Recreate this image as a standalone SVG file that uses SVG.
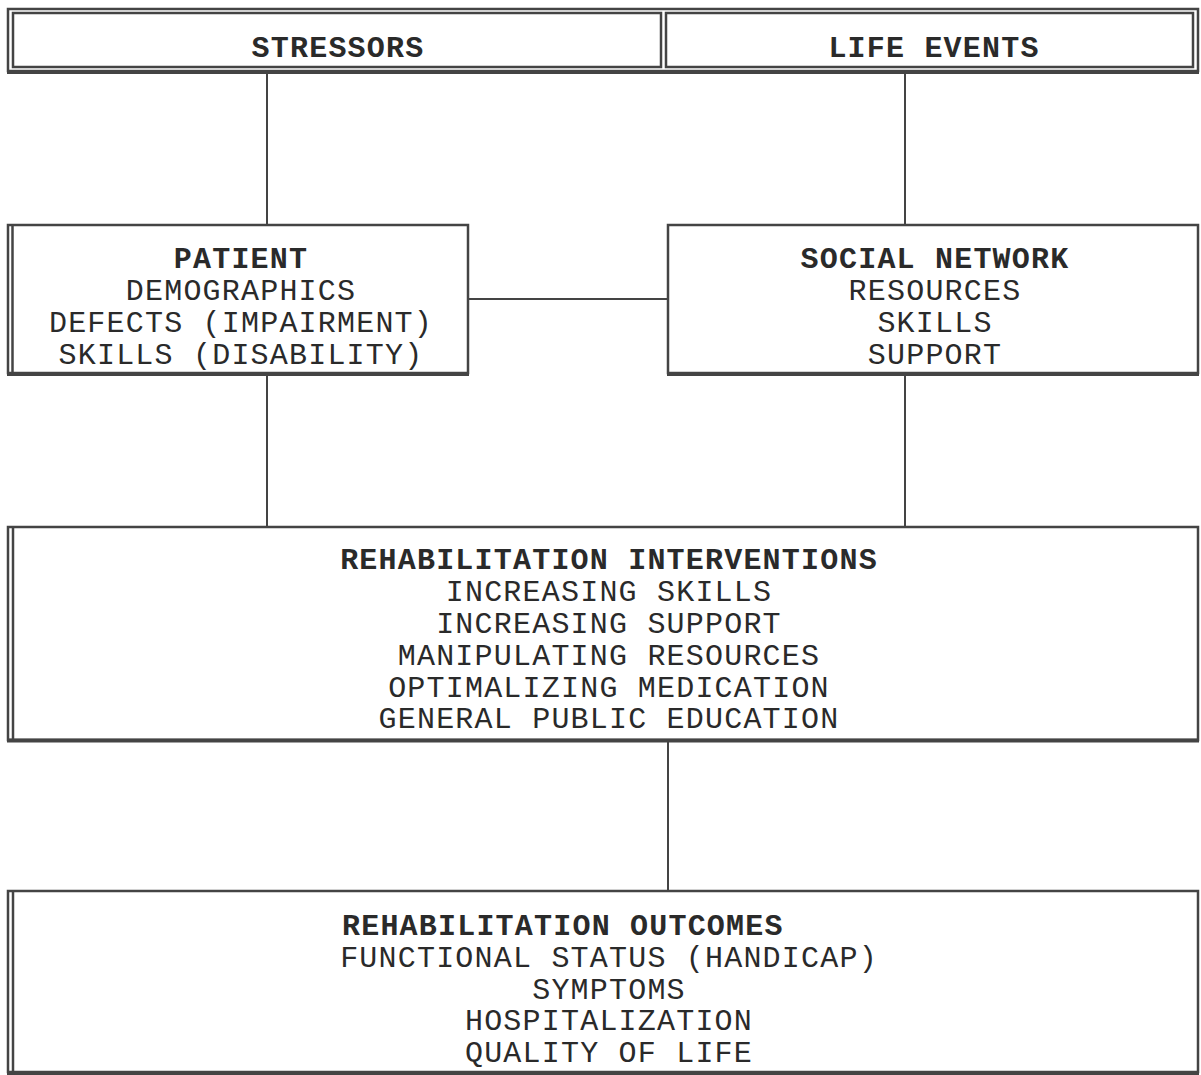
<svg xmlns="http://www.w3.org/2000/svg" width="1201" height="1075" viewBox="0 0 1201 1075">
<style>
  .bg { fill: #ffffff; }
  .edge { fill: none; stroke: #444; stroke-width: 2.5; }
  .thick { fill: none; stroke: #444; stroke-width: 4; }
  .conn { fill: none; stroke: #444; stroke-width: 2; }
  text { font-family: "Liberation Mono", "DejaVu Sans Mono", monospace; font-size: 30px; letter-spacing: 1.2px; fill: #2a2a2a; }
  .h { font-weight: bold; }
  .c { text-anchor: middle; }
</style>
<rect class="bg" x="0" y="0" width="1201" height="1075"/>

<g id="connectors">
  <line class="conn" x1="267" y1="72" x2="267" y2="225"/>
  <line class="conn" x1="905" y1="72" x2="905" y2="225"/>
  <line class="conn" x1="468" y1="299" x2="668" y2="299"/>
  <line class="conn" x1="267" y1="374" x2="267" y2="527"/>
  <line class="conn" x1="905" y1="374" x2="905" y2="527"/>
  <line class="conn" x1="668" y1="740" x2="668" y2="891"/>
</g>

<g id="banner">
  <rect class="edge" x="8" y="9" width="1190" height="62"/>
  <line class="thick" x1="7" y1="72" x2="1199" y2="72"/>
  <rect class="edge" x="13" y="13" width="648" height="54"/>
  <rect class="edge" x="666" y="13" width="527" height="54"/>
  <g id="stressors">
    <text class="h c" x="338" y="57">STRESSORS</text>
  </g>
  <g id="life-events">
    <text class="h c" x="934" y="57">LIFE EVENTS</text>
  </g>
</g>

<g id="patient">
  <rect class="edge" x="8" y="225" width="460" height="148"/>
  <line class="edge" x1="12.5" y1="225" x2="12.5" y2="373"/>
  <line class="thick" x1="7" y1="374" x2="469" y2="374"/>
  <text class="h c" x="241" y="268">PATIENT</text>
  <text class="c" x="241" y="300">DEMOGRAPHICS</text>
  <text class="c" x="241" y="332">DEFECTS (IMPAIRMENT)</text>
  <text class="c" x="241" y="364">SKILLS (DISABILITY)</text>
</g>

<g id="social-network">
  <rect class="edge" x="668" y="225" width="530" height="148"/>
  <line class="thick" x1="667" y1="374" x2="1199" y2="374"/>
  <text class="h c" x="935" y="268">SOCIAL NETWORK</text>
  <text class="c" x="935" y="300">RESOURCES</text>
  <text class="c" x="935" y="332">SKILLS</text>
  <text class="c" x="935" y="364">SUPPORT</text>
</g>

<g id="rehab-interventions">
  <rect class="edge" x="8" y="527" width="1190" height="213"/>
  <line class="edge" x1="13" y1="527" x2="13" y2="740"/>
  <line class="thick" x1="7" y1="740.5" x2="1199" y2="740.5"/>
  <text class="h c" x="609" y="569">REHABILITATION INTERVENTIONS</text>
  <text class="c" x="609" y="601">INCREASING SKILLS</text>
  <text class="c" x="609" y="633">INCREASING SUPPORT</text>
  <text class="c" x="609" y="665">MANIPULATING RESOURCES</text>
  <text class="c" x="609" y="697">OPTIMALIZING MEDICATION</text>
  <text class="c" x="609" y="728">GENERAL PUBLIC EDUCATION</text>
</g>

<g id="rehab-outcomes">
  <rect class="edge" x="8" y="891" width="1190" height="181"/>
  <line class="edge" x1="13" y1="891" x2="13" y2="1072"/>
  <line class="thick" x1="7" y1="1073" x2="1199" y2="1073"/>
  <text class="h" x="342" y="935">REHABILITATION OUTCOMES</text>
  <text class="c" x="609" y="967">FUNCTIONAL STATUS (HANDICAP)</text>
  <text class="c" x="609" y="999">SYMPTOMS</text>
  <text class="c" x="609" y="1030">HOSPITALIZATION</text>
  <text class="c" x="609" y="1062">QUALITY OF LIFE</text>
</g>
</svg>
